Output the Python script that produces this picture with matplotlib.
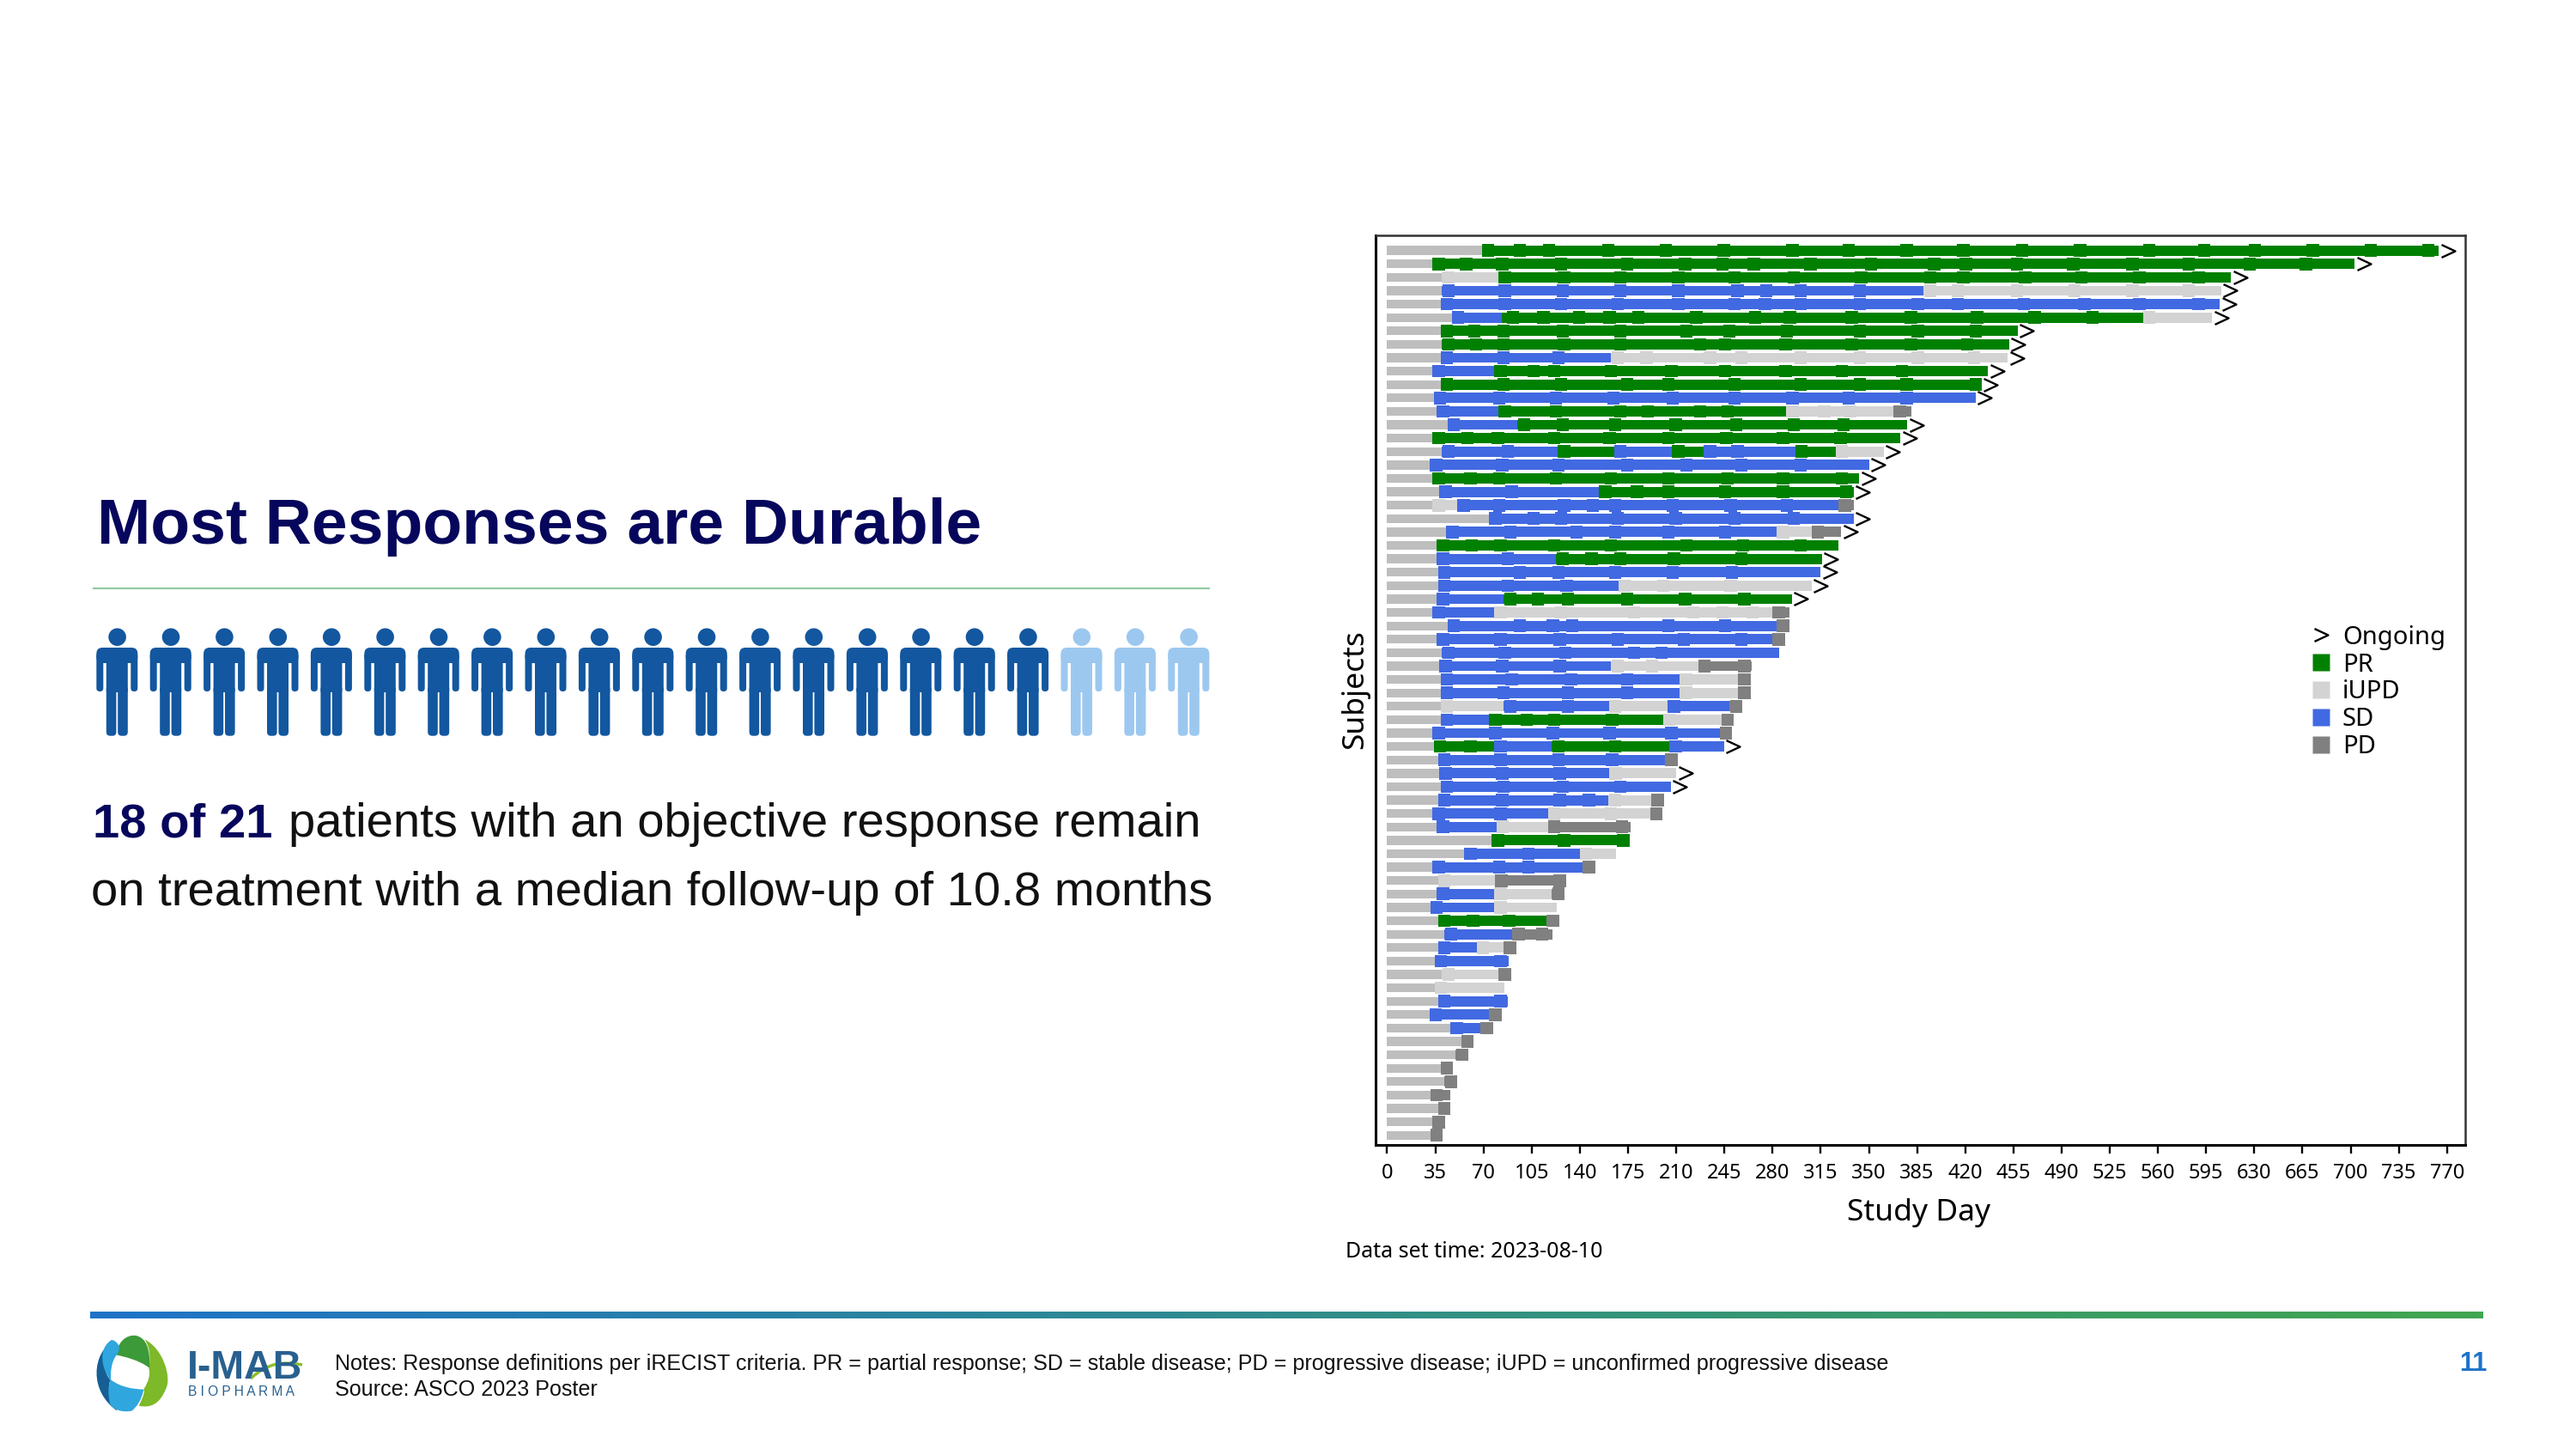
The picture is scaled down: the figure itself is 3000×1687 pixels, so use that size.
import numpy as np
from matplotlib import pyplot as plt
from matplotlib.lines import Line2D
from matplotlib.patches import Circle, FancyBboxPatch, PathPatch
from matplotlib.path import Path

# grey lead-in bar of every subject, ends where the first assessment starts
lead_end = [69, 33, 39.5, 39.5, 39, 47, 39, 39.5, 39, 33.4, 39, 34.5, 36, 44, 33.4, 39.5, 31.5,
            33.4, 38, 33, 74.6, 43, 36, 36, 37, 37, 36, 33, 44, 36, 39.5, 38, 39, 39, 39, 39, 33,
            34.5, 37, 38, 39, 37, 33, 36, 75.7, 55.7, 33, 37, 36, 31.5, 37, 41.8, 37, 34.5, 39.5,
            34.5, 37, 30.6, 46, 53.7, 49.6, 39, 41.8, 31.5, 37, 33, 31.5]

# response per subject and the day each response block ends
seg_states = [
    ['PR'], ['PR'], ['iUPD', 'PR'], ['SD', 'iUPD'], ['SD'], ['SD', 'PR', 'iUPD'], ['PR'], ['PR'],
    ['SD', 'iUPD'], ['SD', 'PR'], ['PR'], ['SD'], ['SD', 'PR', 'iUPD', 'PD'], ['SD', 'PR'], ['PR'],
    ['SD', 'PR', 'SD', 'PR', 'SD', 'PR', 'iUPD'], ['SD'], ['PR'], ['SD', 'PR'], ['iUPD', 'SD', 'PD'],
    ['SD'], ['SD', 'iUPD', 'PD'], ['PR'], ['SD', 'PR'], ['SD'], ['SD', 'iUPD'], ['SD', 'PR'],
    ['SD', 'iUPD', 'PD'], ['SD', 'PD'], ['SD', 'PD'], ['SD'], ['SD', 'iUPD', 'PD'], ['SD', 'iUPD', 'PD'],
    ['SD', 'iUPD', 'PD'], ['iUPD', 'SD', 'iUPD', 'SD', 'PD'], ['SD', 'PR', 'iUPD', 'PD'], ['SD', 'PD'],
    ['PR', 'SD', 'PR', 'SD'], ['SD', 'PD'], ['SD', 'iUPD'], ['SD'], ['SD', 'iUPD', 'PD'],
    ['SD', 'iUPD', 'PD'], ['SD', 'iUPD', 'PD'], ['PR'], ['SD', 'iUPD'], ['SD', 'PD'], ['iUPD', 'PD'],
    ['SD', 'iUPD', 'PD'], ['SD', 'iUPD'], ['PR', 'PD'], ['SD', 'PD'], ['SD', 'iUPD', 'PD'], ['SD'],
    ['iUPD', 'PD'], ['iUPD'], ['SD'], ['SD', 'PD'], ['SD', 'PD'], ['PD'], ['PD'], ['PD'], ['PD'],
    ['PD'], ['PD'], ['PD'], ['PD'],
]
seg_ends = [
    [764], [703], [81, 613], [389.5, 606], [605], [83, 549, 599.5], [458], [452],
    [162.6, 451], [78.5, 436.6], [432], [427.5], [81.6, 289.6, 368.4, 381], [94.7, 378], [373],
    [124, 165, 207, 230, 296.6, 326, 360.6], [350], [343], [154, 339], [51.5, 328, 339],
    [339], [283.5, 308.5, 330], [328], [122.5, 316], [315], [168, 308.5], [84.7, 294],
    [78.5, 280.7, 292], [283.5, 292], [280, 288.5], [285], [162.6, 226.4, 265], [212.5, 255, 263.5],
    [212.5, 255, 263.5], [84.7, 161.5, 203.6, 248.7, 257], [74.6, 200.5, 243, 252], [241.7, 250],
    [77.7, 119.7, 205, 244.8], [202, 210.5], [161.5, 210], [206], [160.7, 192, 200.5],
    [117, 191, 199.7], [79.6, 117, 177], [175.7], [140, 166], [142, 150.6], [78.5, 129.5],
    [77.7, 119.7, 129], [77.7, 123], [116, 124.5], [91, 120], [65, 84.7, 93], [88],
    [81, 89.7], [85], [87.7], [74, 82.4], [67.7, 76.6], [62.6], [58.5], [48], [50.7],
    [46], [46], [41.5], [40],
]

# assessment days, each one drawn as a short thicker block
visit_days = [
    [69, 92, 113, 156, 198, 240, 290, 331, 373, 414, 457, 499, 549, 589, 626, 668, 710, 752],
    [33, 53, 79, 122, 170, 212, 239, 262, 303, 347, 393, 416, 453, 494, 537, 578, 622, 663],
    [40, 81, 124, 165, 207, 248, 291, 340, 390, 414, 459, 500, 542, 585],
    [40, 81, 123, 165, 207, 250, 271, 296, 339, 390, 410, 453, 495, 537, 578],
    [39, 81, 122, 163, 207, 248, 270, 296, 339, 381, 410, 458, 502, 542, 585],
    [47, 87, 109, 135, 157, 178, 220, 263, 288, 333, 376, 424, 466, 508, 549],
    [39, 59, 80, 123, 165, 213, 244, 286, 339, 381, 423],
    [40, 60, 80, 124, 165, 223, 241, 285, 333, 376, 417],
    [39, 80, 120, 163, 184, 230, 253, 296, 339, 381, 422],
    [33, 78, 102, 117, 158, 202, 241, 285, 326, 369.5],
    [39, 80, 122, 170, 200, 248, 296, 339, 373, 423],
    [34, 77, 118, 160, 203, 248, 290, 331, 373],
    [36, 81, 118, 165, 185, 223, 243, 290, 313, 332, 368],
    [44, 95, 123, 161, 205, 249, 291, 327],
    [33, 54, 76, 117, 157, 200, 242, 283, 325],
    [40, 83, 124, 165, 207, 230, 250, 296.5, 326],
    [31, 79, 120, 170, 213, 253, 296],
    [33, 56, 77, 118, 158, 200, 243, 283, 326],
    [38, 86, 154, 177, 200, 241, 283, 329],
    [33, 51, 77, 124, 145, 161, 203, 245, 286, 328],
    [74, 102, 122, 163, 205, 248, 291],
    [43, 85, 133, 161, 200, 241, 283, 308.5],
    [36, 57, 78, 117, 158, 213, 254, 296],
    [36, 83, 123, 144, 165, 204, 253],
    [37, 92, 120, 161, 203, 246],
    [37, 83, 126, 168, 196, 245],
    [36, 85, 105, 127, 170, 212, 255],
    [33, 78, 122, 175, 218, 239, 261, 280],
    [44, 92, 116, 130, 200, 241, 283],
    [36, 78, 121, 163, 211, 253, 280],
    [40, 81, 125, 175, 195],
    [38, 79, 121, 163, 188, 226, 255],
    [39, 86, 129, 170, 212.5, 255],
    [39, 80, 127, 170, 212.5, 255],
    [39, 85, 127, 161, 204, 249],
    [39, 74, 97, 117, 159, 200.5, 243],
    [33, 74, 116, 157, 202, 241.7],
    [34, 56, 78, 120, 161, 205],
    [37, 78, 120, 159, 202],
    [38, 79, 121, 161.5],
    [39, 80, 123, 165],
    [37, 79, 121, 142, 161, 192],
    [33, 78, 117, 158, 191],
    [36, 79.6, 117, 166],
    [76, 124, 167],
    [56, 98, 140],
    [33, 77, 98, 142],
    [37, 78.5, 121],
    [36, 78, 120],
    [31.5, 78],
    [37, 58, 84, 116],
    [42, 91, 108],
    [37, 65, 84.7],
    [34.5, 78],
    [40, 81],
    [34.5],
    [37, 78],
    [30.6, 74],
    [46, 68],
    [54], [50], [39], [42], [31.5], [37], [33], [31.5],
]

# subjects still on treatment
ongoing = [0, 1, 2, 3, 4, 5, 6, 7, 8, 9, 10, 11, 13, 14, 15, 16, 17, 18, 20, 21, 23, 24, 25, 26, 37, 39, 40]

x_ticks = list(range(0, 771, 35))
legend_labels = ['Ongoing', 'PR', 'iUPD', 'SD', 'PD']
state_colors = {'PR': '#008000', 'iUPD': '#D3D3D3', 'SD': '#4169E1', 'PD': '#808080'}
lead_color = '#BEBEBE'

people_total = 21
people_on_treatment = 18

NAVY = '#06065C'
SANS = 'Liberation Sans'
CHART_FONT = 'Noto Sans'

chevron = Path([(-1, -0.93), (1, 0), (-1, 0.93)], [Path.MOVETO, Path.LINETO, Path.LINETO])


def state_at(day, states, ends):
    # the block a visit falls into, judged at the middle of its marker
    for state, end in zip(states, ends):
        if day + 4.5 < end:
            return state
    return states[-1]


def draw_swimmers(fig):
    ax = fig.add_axes([1602 / 3000, 1 - 1332.7 / 1687, (2870.6 - 1602) / 3000, (1332.7 - 274) / 1687])
    ax.patch.set_alpha(0)
    for i in range(len(lead_end)):
        ax.barh(i, lead_end[i], height=0.66, color=lead_color, linewidth=0)
        left = lead_end[i]
        for state, end in zip(seg_states[i], seg_ends[i]):
            ax.barh(i, end - left, left=left, height=0.76, color=state_colors[state], linewidth=0)
            left = end
        for day in visit_days[i]:
            state = state_at(day, seg_states[i], seg_ends[i])
            ax.barh(i, 9, left=day, height=0.94, color=state_colors[state], linewidth=0)
    for i in ongoing:
        ax.plot(seg_ends[i][-1] + 6.5, i, marker=chevron, markersize=11.5, fillstyle='none',
                mec='black', mew=1.7, ls='none')

    ax.set_xlim(-8.4, 783)
    ax.set_ylim(66.7, -1.13)
    ax.set_xticks(x_ticks)
    ax.set_yticks([])
    ax.tick_params(axis='x', length=7, width=1.7, labelsize=17, pad=8)
    for lab in ax.get_xticklabels():
        lab.set_fontfamily(CHART_FONT)
    for side in ['left', 'bottom']:
        ax.spines[side].set_linewidth(2.2)
    for side in ['top', 'right']:
        ax.spines[side].set_linewidth(1.8)
        ax.spines[side].set_color('#333333')

    handles = [Line2D([], [], marker=chevron, markersize=11.5, fillstyle='none', mec='black', mew=1.7, ls='none')]
    for name in legend_labels[1:]:
        handles.append(Line2D([], [], marker='s', markersize=14.5, mfc=state_colors[name], mec='none', ls='none'))
    ax.legend(handles, legend_labels, loc='center left', bbox_to_anchor=(0.845, 0.4975), frameon=False,
              prop={'family': CHART_FONT, 'size': 21}, labelspacing=0.1, handletextpad=0.35,
              handlelength=1.0, borderpad=0)
    return ax


def draw_person(bg, cx, color):
    head = Circle((cx + 0.3, 741.7), 10.3, color=color, lw=0)
    bg.add_patch(head)
    shapes = [
        (-24, 754, 48, 18, 7),
        (-24, 760, 8, 45, 3.8),
        (16, 760, 8, 45, 3.8),
        (-12.5, 756, 25, 50, 1),
        (-12.5, 798, 11.6, 58.7, 4.5),
        (0.9, 798, 11.6, 58.7, 4.5),
    ]
    for x0, y0, w, h, r in shapes:
        bg.add_patch(FancyBboxPatch((cx + x0 + r, y0 + r), w - 2 * r, h - 2 * r,
                                    boxstyle='round,pad=%f,rounding_size=%f' % (r, r),
                                    fc=color, ec='none', lw=0))


def logo_shape(bg, pts, color):
    # pts are a start point followed by bezier triples, in logo pixels
    verts = [(90 + x / 3, 1520 + y / 3) for x, y in pts]
    codes = [Path.MOVETO] + [Path.CURVE4] * (len(verts) - 1)
    bg.add_patch(PathPatch(Path(verts, codes), fc=color, ec='none', lw=0))


def draw_logo(bg):
    logo_shape(bg, [(235, 118), (300, 150), (330, 250), (310, 290), (290, 340), (260, 360), (215, 350),
                    (235, 310), (235, 300), (232, 292), (250, 265), (256, 240), (250, 220),
                    (258, 170), (250, 140), (235, 118)], '#7DB928')
    logo_shape(bg, [(135, 172), (140, 130), (170, 100), (205, 105), (240, 112), (256, 150), (252, 218),
                    (215, 190), (170, 180), (135, 172)], '#3C9A38')
    logo_shape(bg, [(130, 120), (50, 165), (40, 300), (140, 368), (110, 320), (105, 285), (116, 260),
                    (80, 220), (100, 160), (130, 120)], '#155F95')
    logo_shape(bg, [(120, 120), (150, 128), (152, 155), (138, 172), (118, 195), (115, 240), (118, 262),
                    (85, 225), (70, 150), (120, 120)], '#2FA6DE')
    logo_shape(bg, [(116, 258), (150, 285), (195, 292), (232, 293), (225, 330), (207, 355), (190, 368),
                    (150, 375), (125, 360), (115, 345), (106, 310), (108, 280), (116, 258)], '#2FA6DE')
    bg.text(218, 1605, 'I-MAB', family=SANS, weight='bold', fontsize=33.5, color='#28608F', va='baseline')
    bg.text(219, 1625, 'B I O P H A R M A', family=SANS, fontsize=11.2, color='#28608F', va='baseline')
    swoosh = Path([(292, 1605), (312, 1586), (330, 1585), (352, 1589)],
                  [Path.MOVETO, Path.CURVE4, Path.CURVE4, Path.CURVE4])
    bg.add_patch(PathPatch(swoosh, fc='none', ec='#8DC02C', lw=2.5))


def draw_slide(fig):
    bg = fig.add_axes([0, 0, 1, 1])
    bg.set_xlim(0, 3000)
    bg.set_ylim(1687, 0)
    bg.axis('off')

    bg.text(113, 614, 'Most Responses are Durable', family=SANS, weight='bold', fontsize=54, color=NAVY, va='center')
    bg.plot([109, 1408], [685, 685], color='#8CCBA0', lw=1.5)

    for i in range(people_total):
        color = '#12579F' if i < people_on_treatment else '#9CC8F0'
        draw_person(bg, 136.3 + i * 62.4, color)

    first = bg.text(108, 960, '18 of 21', family=SANS, weight='bold', fontsize=40.5, color=NAVY, va='center')
    fig.canvas.draw()
    box = first.get_window_extent().transformed(bg.transData.inverted())
    bg.text(box.x1 + 18, 960, 'patients with an objective response remain', family=SANS, fontsize=40.5,
            color='#111111', va='center')
    bg.text(106, 1040, 'on treatment with a median follow-up of 10.8 months', family=SANS, fontsize=40.5,
            color='#111111', va='center')

    # blue to green rule above the footer
    ramp = np.linspace(0, 1, 400)
    rgb = np.zeros((1, 400, 3))
    for k, (a, b) in enumerate(zip((0x1E, 0x73, 0xC8), (0x41, 0xA6, 0x4F))):
        rgb[0, :, k] = (a + (b - a) * ramp) / 255
    bg.imshow(rgb, extent=(105, 2892, 1535, 1527), aspect='auto', zorder=1)
    bg.set_xlim(0, 3000)
    bg.set_ylim(1687, 0)

    draw_logo(bg)
    bg.text(390, 1588, 'Notes: Response definitions per iRECIST criteria. PR = partial response; SD = stable disease; '
            'PD = progressive disease; iUPD = unconfirmed progressive disease', family=SANS, fontsize=18.1,
            color='#111111', va='center')
    bg.text(390, 1618, 'Source: ASCO 2023 Poster', family=SANS, fontsize=18.1, color='#111111', va='center')
    bg.text(2897, 1588, '11', family=SANS, weight='bold', fontsize=22, color='#1E73C8', va='center', ha='right')

    bg.text(1578, 803, 'Subjects', family=CHART_FONT, fontsize=25.5, rotation=90, ha='center', va='center')
    bg.text(2235, 1412, 'Study Day', family=CHART_FONT, fontsize=25.5, ha='center', va='center')
    bg.text(1567, 1458, 'Data set time: 2023-08-10', family=CHART_FONT, fontsize=18, va='center')


def main():
    fig = plt.figure(figsize=(30, 16.87), dpi=100)
    draw_slide(fig)
    draw_swimmers(fig)
    fig.savefig('out.png', dpi=100)


if __name__ == '__main__':
    main()
